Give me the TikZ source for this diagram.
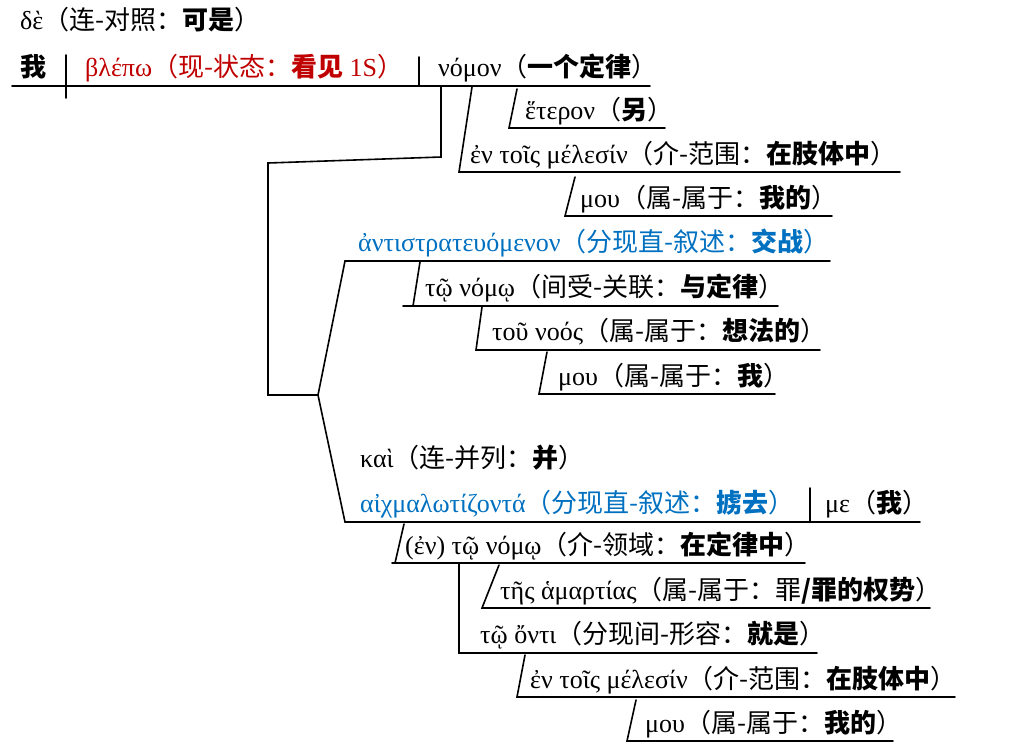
\documentclass[tikz,border=0pt]{standalone}
\usepackage{fontspec}
\setmainfont{Liberation Serif}
\newfontfamily\cjk{Noto Sans CJK SC}
\definecolor{vred}{RGB}{192,0,0}
\definecolor{pblue}{RGB}{0,112,192}
\newcommand{\zh}[1]{{\cjk #1}}
\newcommand{\zhb}[1]{{\cjk\bfseries #1}}
\tikzset{
  lbl/.style={anchor=base west, inner sep=0pt, font=\fontsize{26}{30}\selectfont},
  ln/.style={line width=1.6pt, line cap=round, line join=miter},
}
\begin{document}
\begin{tikzpicture}[x=1pt,y=-1pt]
\useasboundingbox (0,0) rectangle (1022,748);
% text
\node[lbl] (de) at (20,29) {δὲ\zh{（连-对照：}\zhb{可是}\zh{）}};
\node[lbl] (wo) at (20,76) {\zhb{我}};
\node[lbl, text=vred] (blepo) at (85,76) {βλέπω\zh{（现-状态：}\zhb{看见}\ 1S\zh{）}};
\node[lbl] (nomon) at (438,76) {νόμον\zh{（}\zhb{一个定律}\zh{）}};
\node[lbl] (heteron) at (525,119) {ἕτερον\zh{（}\zhb{另}\zh{）}};
\node[lbl] (entois1) at (470,163) {ἐν τοῖς μέλεσίν\zh{（介-范围：}\zhb{在肢体中}\zh{）}};
\node[lbl] (mou1) at (580,207) {μου\zh{（属-属于：}\zhb{我的}\zh{）}};
\node[lbl, text=pblue] (anti) at (358,251) {ἀντιστρατευόμενον\zh{（分现直-叙述：}\zhb{交战}\zh{）}};
\node[lbl] (tonomo) at (425,296) {τῷ νόμῳ\zh{（间受-关联：}\zhb{与定律}\zh{）}};
\node[lbl] (tounoos) at (492,340) {τοῦ νοός\zh{（属-属于：}\zhb{想法的}\zh{）}};
\node[lbl] (mou2) at (558,385) {μου\zh{（属-属于：}\zhb{我}\zh{）}};
\node[lbl] (kai) at (360,467) {καὶ\zh{（连-并列：}\zhb{并}\zh{）}};
\node[lbl, text=pblue] (aichm) at (360,512) {αἰχμαλωτίζοντά\zh{（分现直-叙述：}\zhb{掳去}\zh{）}};
\node[lbl] (me) at (825,512) {με\zh{（}\zhb{我}\zh{）}};
\node[lbl] (ennomo) at (405,554) {(ἐν) τῷ νόμῳ\zh{（介-领域：}\zhb{在定律中}\zh{）}};
\node[lbl] (tes) at (500,599) {τῆς ἁμαρτίας\zh{（属-属于：罪}\zhb{/罪的权势}\zh{）}};
\node[lbl] (onti) at (480,643) {τῷ ὄντι\zh{（分现间-形容：}\zhb{就是}\zh{）}};
\node[lbl] (entois2) at (530,688) {ἐν τοῖς μέλεσίν\zh{（介-范围：}\zhb{在肢体中}\zh{）}};
\node[lbl] (mou3) at (645,732) {μου\zh{（属-属于：}\zhb{我的}\zh{）}};
% coordinates
\coordinate (b0) at (12,86); \coordinate (b1) at (650,86);
\coordinate (s0) at (66,55); \coordinate (s1) at (66,98);
\coordinate (o0) at (419,57); \coordinate (o1) at (419,86);
\coordinate (p0) at (441,86); \coordinate (p1) at (441,157);
\coordinate (p2) at (268,163); \coordinate (p3) at (268,395);
\coordinate (fork) at (318,395);
\coordinate (antiL) at (345,261); \coordinate (antiR) at (830,261);
\coordinate (aiL) at (345,522); \coordinate (aiR) at (920,522);
\coordinate (me0) at (810,488); \coordinate (me1) at (810,522);
\coordinate (h0) at (517,89); \coordinate (h1) at (509,128); \coordinate (h2) at (665,128);
\coordinate (e0) at (472,87); \coordinate (e1) at (459,172); \coordinate (e2) at (900,172);
\coordinate (m0) at (575,177); \coordinate (m1) at (565,216); \coordinate (m2) at (832,216);
\coordinate (t0) at (420,262); \coordinate (t1) at (413,306); \coordinate (tL) at (403,306); \coordinate (t2) at (778,306);
\coordinate (n0) at (482,307); \coordinate (n1) at (476,350); \coordinate (n2) at (820,350);
\coordinate (u0) at (547,352); \coordinate (u1) at (539,394); \coordinate (u2) at (775,394);
\coordinate (v0) at (404,524); \coordinate (v1) at (395,563); \coordinate (vL) at (392,563); \coordinate (v2) at (805,563);
\coordinate (w0) at (459,563); \coordinate (w1) at (459,653); \coordinate (w2) at (817,653);
\coordinate (x0) at (499,565); \coordinate (x1) at (482,608); \coordinate (x2) at (930,608);
\coordinate (y0) at (525,655); \coordinate (y1) at (517,697); \coordinate (y2) at (955,697);
\coordinate (z0) at (636,700); \coordinate (z1) at (627,741); \coordinate (z2) at (893,741);
% lines
\draw[ln] (b0) -- (b1);
\draw[ln] (s0) -- (s1);
\draw[ln] (o0) -- (o1);
\draw[ln] (p0) -- (p1) -- (p2) -- (p3) -- (fork);
\draw[ln] (antiR) -- (antiL) -- (fork) -- (aiL) -- (aiR);
\draw[ln] (me0) -- (me1);
\draw[ln] (h0) -- (h1) -- (h2);
\draw[ln] (e0) -- (e1) -- (e2);
\draw[ln] (m0) -- (m1) -- (m2);
\draw[ln] (t0) -- (t1); \draw[ln] (tL) -- (t2);
\draw[ln] (n0) -- (n1) -- (n2);
\draw[ln] (u0) -- (u1) -- (u2);
\draw[ln] (v0) -- (v1); \draw[ln] (vL) -- (v2);
\draw[ln] (w0) -- (w1) -- (w2);
\draw[ln] (x0) -- (x1) -- (x2);
\draw[ln] (y0) -- (y1) -- (y2);
\draw[ln] (z0) -- (z1) -- (z2);
\end{tikzpicture}
\end{document}
